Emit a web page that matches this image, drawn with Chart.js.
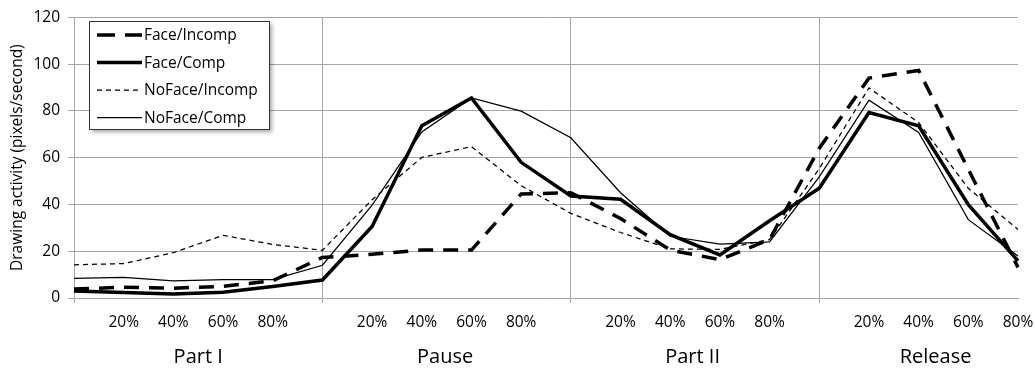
<!DOCTYPE html>
<html><head><meta charset="utf-8">
<script src="https://cdn.jsdelivr.net/npm/chart.js@4/dist/chart.umd.min.js"></script>
<style>html,body{margin:0;padding:0;background:#fff;overflow:hidden}</style>
</head><body>
<canvas id="c" width="1035" height="374"></canvas>
<script>
// ---- data ----
const categories = ['', '20%', '40%', '60%', '80%',
                    '', '20%', '40%', '60%', '80%',
                    '', '20%', '40%', '60%', '80%',
                    '', '20%', '40%', '60%', '80%'];
const groupLabels = ['Part I', 'Pause', 'Part II', 'Release'];
const groupPositions = [2.5, 7.47, 12.45, 17.34];
const yMin = 0, yMax = 120, yStep = 20;
const yTitle = 'Drawing activity (pixels/second)';

const seriesNames = ['Face/Incomp', 'Face/Comp', 'NoFace/Incomp', 'NoFace/Comp'];
const faceIncomp   = [3.8, 4.6, 4.2, 5.0, 7.4, 17.3, 18.7, 20.5, 20.5, 44.5, 45.0, 34.0, 20.5, 16.4, 25.0, 64.0, 94.0, 97.3, 55.0, 13.1];
const faceComp     = [3.0, 2.3, 1.7, 2.5, 4.9, 7.7, 30.6, 73.6, 85.5, 58.0, 43.6, 42.2, 27.1, 18.4, 33.0, 46.9, 79.3, 73.6, 39.9, 15.9];
const noFaceIncomp = [14.2, 14.7, 19.4, 26.8, 22.9, 20.4, 42.0, 60.1, 64.7, 48.0, 36.2, 28.0, 21.0, 20.8, 25.0, 55.3, 89.8, 75.0, 46.9, 29.3];
const noFaceComp   = [8.4, 8.8, 7.3, 7.9, 7.9, 14.0, 39.7, 71.0, 85.5, 79.9, 68.5, 45.0, 26.4, 23.0, 24.0, 51.8, 84.6, 70.8, 33.5, 18.0];

// ---- styling ----
const FONT = "'Open Sans', sans-serif";
const GRID = '#a6a6a6';

const legendPlugin = {
  id: 'boxLegend',
  afterDraw(chart) {
    const ctx = chart.ctx;
    const bx = 89, by = 21, bw = 180, bh = 108;
    ctx.save();
    ctx.shadowColor = 'rgba(0,0,0,0.35)';
    ctx.shadowBlur = 4; ctx.shadowOffsetX = 3; ctx.shadowOffsetY = 3;
    ctx.fillStyle = '#fff';
    ctx.fillRect(bx, by, bw, bh);
    ctx.shadowColor = 'rgba(0,0,0,0)';
    ctx.strokeStyle = '#333';
    ctx.lineWidth = 1;
    ctx.strokeRect(bx + 0.5, by + 0.5, bw, bh);
    ctx.font = '15.5px ' + FONT;
    ctx.textBaseline = 'middle';
    ctx.textAlign = 'left';
    chart.data.datasets.forEach((ds, i) => {
      const cy = by + 14 + i * 27.5;
      ctx.beginPath();
      ctx.strokeStyle = ds.borderColor;
      ctx.lineWidth = ds.borderWidth;
      ctx.setLineDash(ds.legendDash || ds.borderDash || []);
      ctx.moveTo(97, cy); ctx.lineTo(142, cy);
      ctx.stroke();
      ctx.setLineDash([]);
      ctx.fillStyle = '#000';
      ctx.fillText(ds.label, 144, cy + 1);
    });
    ctx.restore();
  }
};

new Chart(document.getElementById('c'), {
  type: 'line',
  data: {
    labels: categories,
    datasets: [
      { label: seriesNames[0], data: faceIncomp, borderColor: '#000', borderWidth: 3.5, borderDash: [15, 10], legendDash: [18, 10] },
      { label: seriesNames[1], data: faceComp, borderColor: '#000', borderWidth: 3.5 },
      { label: seriesNames[2], data: noFaceIncomp, borderColor: '#000', borderWidth: 1.25, borderDash: [5, 4] },
      { label: seriesNames[3], data: noFaceComp, borderColor: '#000', borderWidth: 1.25 }
    ]
  },
  options: {
    responsive: false,
    devicePixelRatio: 1,
    animation: false,
    layout: { padding: { top: 13, right: 17, left: 0, bottom: 0 } },
    elements: { point: { radius: 0 }, line: { tension: 0, borderCapStyle: 'butt', borderJoinStyle: 'miter' } },
    plugins: { legend: { display: false }, tooltip: { enabled: false } },
    scales: {
      x: {
        type: 'category', position: 'bottom', weight: 0, offset: false,
        grid: { offset: false, color: (c) => (c.index % 5 === 0 ? GRID : 'rgba(0,0,0,0)'), lineWidth: 1, tickLength: 5, drawTicks: true },
        border: { display: true, color: GRID },
        ticks: { autoSkip: false, maxRotation: 0, minRotation: 0, padding: 10, color: '#000', font: { family: FONT, size: 15.5 } },
        afterFit(s) { s.height = 30; s.paddingLeft = 0; s.paddingRight = 0; }
      },
      x2: {
        type: 'linear', position: 'bottom', weight: 1, min: 0, max: categories.length - 1,
        grid: { display: false, drawTicks: false },
        border: { display: false },
        afterBuildTicks(s) { s.ticks = groupPositions.map(v => ({ value: v })); },
        ticks: { autoSkip: false, maxRotation: 0, minRotation: 0, padding: 17, color: '#000', font: { family: FONT, size: 20 },
                 callback: (v, i) => groupLabels[i] },
        afterFit(s) { s.height = 46; s.paddingLeft = 0; s.paddingRight = 0; }
      },
      y: {
        min: yMin, max: yMax,
        grid: { color: GRID, lineWidth: 1, tickLength: 6 },
        border: { display: true, color: GRID },
        ticks: { stepSize: yStep, padding: 8, color: '#000', font: { family: FONT, size: 15.5 } },
        title: { display: true, text: yTitle, color: '#000', font: { family: FONT, size: 15.5 }, padding: { top: 8, bottom: 0 } },
        afterFit(s) { s.width = 74; }
      }
    }
  },
  plugins: [legendPlugin]
});
</script>
</body></html>
